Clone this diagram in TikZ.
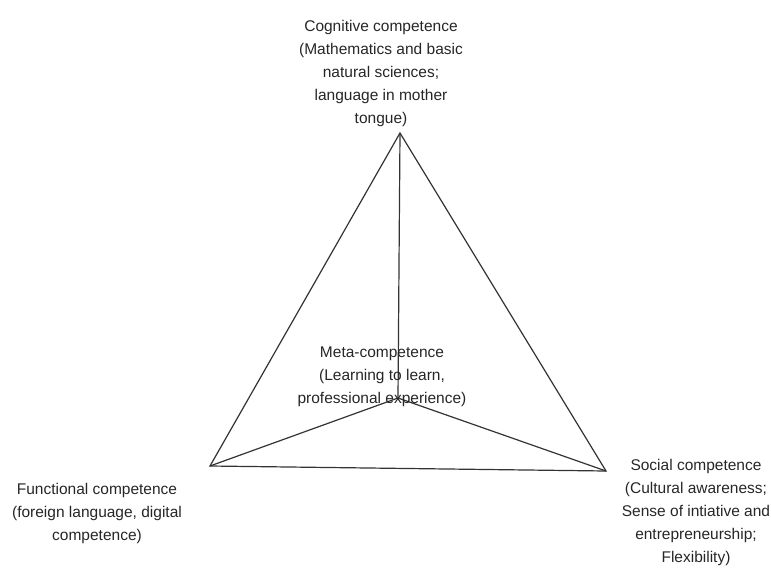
\documentclass[tikz,border=0pt]{standalone}
\usepackage{fontspec}
\setmainfont{Liberation Sans}
\begin{document}
\begin{tikzpicture}[x=1pt,y=-1pt,
  edge/.style={draw=black!80,line width=1.2pt},
  lbl/.style={align=center,inner sep=0pt,text=black!85,font=\fontsize{15.5}{23}\selectfont}]
 \useasboundingbox (0,0) rectangle (771,571);
 % corners and centre
 \coordinate (cog) at (400,133);
 \coordinate (fun) at (210,466);
 \coordinate (soc) at (606,471);
 \coordinate (meta) at (398,398);
 \draw[edge,line join=miter] (cog)--(fun)--(soc)--cycle;
 \draw[edge] (meta)--(cog);
 \draw[edge] (meta)--(fun);
 \draw[edge] (meta)--(soc);
 % labels
 \node[lbl,anchor=north] (cogtxt) at (381,20) {Cognitive competence\\(Mathematics and basic\\natural sciences;\\language in mother\\tongue)};
 \node[lbl,anchor=north] (metatxt) at (382,347) {Meta-competence\\(Learning to learn,\\professional experience)};
 \node[lbl,anchor=north] (funtxt) at (97,483) {Functional competence\\(foreign language, digital\\competence)};
 \node[lbl,anchor=north] (soctxt) at (696,459) {Social competence\\(Cultural awareness;\\Sense of intiative and\\entrepreneurship;\\Flexibility)};
\end{tikzpicture}
\end{document}
